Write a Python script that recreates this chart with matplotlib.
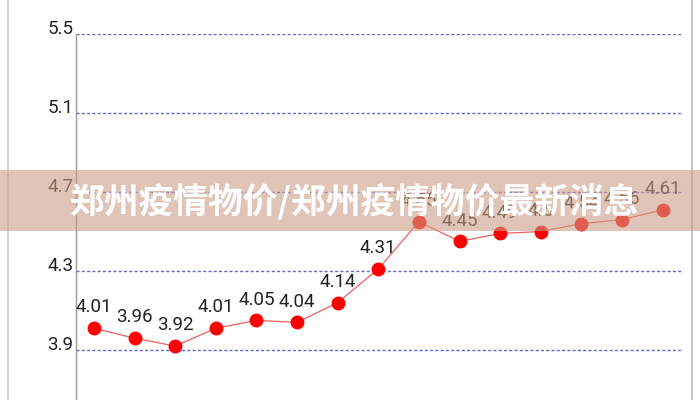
import matplotlib.pyplot as plt
from matplotlib.patches import Rectangle
from matplotlib.lines import Line2D

plt.rcParams['font.family'] = ['Roboto', 'DejaVu Sans']

prices = [4.01, 3.96, 3.92, 4.01, 4.05, 4.04, 4.14, 4.31, 4.55, 4.45, 4.49, 4.5, 4.54, 4.56, 4.61]
labels = ['4.01', '3.96', '3.92', '4.01', '4.05', '4.04', '4.14', '4.31', '4.55',
          '4.45', '4.49', '4.5', '4.54', '4.56', '4.61']
yticks = [3.9, 4.3, 4.7, 5.1, 5.5]
title = '郑州疫情物价/郑州疫情物价最新消息'

fig = plt.figure(figsize=(7, 4), dpi=100)
ax = fig.add_axes([76 / 700, 0, (683 - 76) / 700, 1 - 34 / 400])

x = list(range(len(prices)))
ax.plot(x, prices, color='#f06060', linewidth=0.9, marker='o', markersize=9,
        markerfacecolor='red', markeredgecolor='red', zorder=3)

for i, lab in enumerate(labels):
    ax.annotate(lab, (x[i], prices[i]), textcoords='offset points', xytext=(0, 8.5),
                ha='center', va='bottom', fontsize=13.5, color='#222222', zorder=4)

for yv in yticks:
    ax.axhline(yv, color='#6464d8', linewidth=1.0, linestyle=(0, (2.2, 1.6)), zorder=1)
    ax.annotate(str(yv), (0, yv), xycoords=ax.get_yaxis_transform(),
                textcoords='offset points', xytext=(-2, 0), ha='right', va='baseline',
                fontsize=13.5, color='#222222', annotation_clip=False)

ax.set_xlim(-0.44, 14.5)
ax.set_ylim(3.647, 5.5)
ax.set_xticks([])
ax.set_yticks([])
for s in ['top', 'right', 'bottom']:
    ax.spines[s].set_visible(False)
ax.spines['left'].set_color('#999999')
ax.spines['left'].set_linewidth(1.0)

# screen edge lines
fig.add_artist(Line2D([8 / 700, 8 / 700], [0, 1], color='#cccccc', linewidth=1.2))
fig.add_artist(Line2D([692 / 700, 692 / 700], [0, 1], color='#bbbbbb', linewidth=1.2))

# title banner
fig.add_artist(Rectangle((0, 1 - 231 / 400), 1, 61 / 400, transform=fig.transFigure,
                         facecolor=(0.80, 0.62, 0.53), alpha=0.6, edgecolor='none', zorder=10))
fig.text(70 / 700, 1 - 202 / 400, title, ha='left', va='center', fontsize=25,
         fontweight='bold', color='white', family=['Noto Sans CJK SC', 'DejaVu Sans'],
         zorder=11)

fig.savefig('out.png', dpi=100)
